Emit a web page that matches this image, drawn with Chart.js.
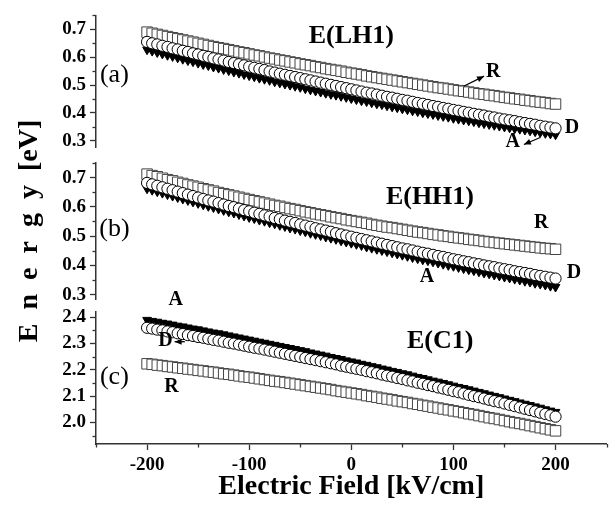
<!DOCTYPE html>
<html><head><meta charset="utf-8">
<script src="https://cdn.jsdelivr.net/npm/chart.js@4.4.0/dist/chart.umd.min.js"></script>
<style>
html,body{margin:0;padding:0;background:#fff;}
#wrap{position:relative;width:615px;height:518px;background:#fff;}
#wrap canvas{position:absolute;left:0;top:0;}
</style></head><body>
<div id="wrap">
<canvas id="ca" width="615" height="518"></canvas>
<canvas id="cb" width="615" height="518"></canvas>
<canvas id="cc" width="615" height="518"></canvas>
</div>
<script>
// Electric field (kV/cm)
const fields = [-200,-195,-190,-185,-180,-175,-170,-165,-160,-155,-150,-145,-140,-135,-130,-125,-120,-115,-110,-105,-100,-95,-90,-85,-80,-75,-70,-65,-60,-55,-50,-45,-40,-35,-30,-25,-20,-15,-10,-5,0,5,10,15,20,25,30,35,40,45,50,55,60,65,70,75,80,85,90,95,100,105,110,115,120,125,130,135,140,145,150,155,160,165,170,175,180,185,190,195,200];

// (a) E(LH1)
const lh1R = [0.690,0.686,0.682,0.678,0.674,0.670,0.666,0.662,0.658,0.654,0.650,0.646,0.642,0.638,0.634,0.631,0.627,0.623,0.619,0.616,0.612,0.608,0.605,0.601,0.597,0.594,0.590,0.587,0.583,0.580,0.576,0.573,0.570,0.566,0.563,0.559,0.556,0.553,0.550,0.546,0.543,0.540,0.537,0.533,0.530,0.527,0.524,0.521,0.518,0.515,0.512,0.509,0.506,0.503,0.500,0.497,0.494,0.491,0.489,0.486,0.483,0.480,0.478,0.475,0.472,0.469,0.467,0.464,0.462,0.459,0.456,0.454,0.451,0.449,0.446,0.444,0.441,0.439,0.437,0.434,0.432];
const lh1D = [0.655,0.650,0.646,0.641,0.637,0.632,0.628,0.623,0.619,0.614,0.610,0.605,0.601,0.596,0.592,0.588,0.583,0.579,0.575,0.571,0.566,0.562,0.558,0.554,0.549,0.545,0.541,0.537,0.533,0.529,0.525,0.521,0.517,0.513,0.509,0.505,0.501,0.497,0.493,0.489,0.485,0.481,0.477,0.473,0.470,0.466,0.462,0.458,0.455,0.451,0.447,0.444,0.440,0.436,0.433,0.429,0.425,0.422,0.418,0.415,0.411,0.408,0.404,0.401,0.397,0.394,0.391,0.387,0.384,0.380,0.377,0.374,0.371,0.367,0.364,0.361,0.358,0.354,0.351,0.348,0.345];
const lh1A = [0.627,0.622,0.617,0.612,0.607,0.603,0.598,0.593,0.588,0.584,0.579,0.574,0.570,0.565,0.561,0.556,0.552,0.547,0.543,0.538,0.534,0.530,0.525,0.521,0.517,0.512,0.508,0.504,0.500,0.496,0.492,0.487,0.483,0.479,0.475,0.471,0.467,0.464,0.460,0.456,0.452,0.448,0.444,0.441,0.437,0.433,0.430,0.426,0.422,0.419,0.415,0.412,0.408,0.405,0.401,0.398,0.395,0.391,0.388,0.385,0.381,0.378,0.375,0.372,0.369,0.365,0.362,0.359,0.356,0.353,0.350,0.347,0.344,0.342,0.339,0.336,0.333,0.330,0.327,0.325,0.322];

// (b) E(HH1)
const hh1R = [0.712,0.707,0.703,0.698,0.693,0.689,0.684,0.680,0.675,0.671,0.667,0.662,0.658,0.654,0.649,0.645,0.641,0.637,0.633,0.629,0.625,0.621,0.617,0.613,0.609,0.605,0.602,0.598,0.594,0.591,0.587,0.583,0.580,0.576,0.573,0.570,0.566,0.563,0.560,0.556,0.553,0.550,0.547,0.544,0.540,0.537,0.534,0.531,0.529,0.526,0.523,0.520,0.517,0.514,0.512,0.509,0.506,0.504,0.501,0.499,0.496,0.494,0.492,0.489,0.487,0.485,0.482,0.480,0.478,0.476,0.474,0.472,0.470,0.468,0.466,0.464,0.462,0.460,0.458,0.457,0.455];
const hh1D = [0.682,0.677,0.672,0.667,0.662,0.657,0.652,0.647,0.642,0.637,0.632,0.627,0.622,0.618,0.613,0.608,0.603,0.599,0.594,0.589,0.585,0.580,0.576,0.571,0.567,0.562,0.558,0.553,0.549,0.545,0.540,0.536,0.532,0.527,0.523,0.519,0.515,0.510,0.506,0.502,0.498,0.494,0.490,0.486,0.482,0.478,0.474,0.470,0.466,0.462,0.458,0.455,0.451,0.447,0.443,0.440,0.436,0.432,0.429,0.425,0.421,0.418,0.414,0.411,0.407,0.404,0.400,0.397,0.394,0.390,0.387,0.384,0.380,0.377,0.374,0.371,0.367,0.364,0.361,0.358,0.355];
const hh1A = [0.662,0.657,0.652,0.647,0.642,0.637,0.632,0.627,0.622,0.617,0.612,0.607,0.602,0.598,0.593,0.588,0.583,0.579,0.574,0.569,0.564,0.560,0.555,0.551,0.546,0.542,0.537,0.533,0.528,0.524,0.519,0.515,0.510,0.506,0.502,0.497,0.493,0.489,0.484,0.480,0.476,0.472,0.468,0.463,0.459,0.455,0.451,0.447,0.443,0.439,0.435,0.431,0.427,0.423,0.419,0.416,0.412,0.408,0.404,0.400,0.397,0.393,0.389,0.385,0.382,0.378,0.374,0.371,0.367,0.364,0.360,0.357,0.353,0.350,0.346,0.343,0.339,0.336,0.333,0.329,0.326];

// (c) E(C1)
const c1A = [2.390,2.386,2.383,2.379,2.376,2.372,2.368,2.365,2.361,2.357,2.354,2.350,2.346,2.342,2.339,2.335,2.331,2.327,2.323,2.319,2.315,2.311,2.307,2.303,2.299,2.295,2.291,2.287,2.283,2.279,2.275,2.271,2.266,2.262,2.258,2.254,2.249,2.245,2.241,2.236,2.232,2.228,2.223,2.219,2.214,2.210,2.205,2.201,2.196,2.192,2.187,2.183,2.178,2.173,2.169,2.164,2.159,2.155,2.150,2.145,2.140,2.135,2.131,2.126,2.121,2.116,2.111,2.106,2.101,2.096,2.091,2.086,2.081,2.076,2.071,2.066,2.061,2.056,2.050,2.045,2.040];
const c1D = [2.360,2.357,2.353,2.350,2.346,2.343,2.339,2.336,2.332,2.329,2.325,2.322,2.318,2.314,2.311,2.307,2.303,2.300,2.296,2.292,2.288,2.284,2.281,2.277,2.273,2.269,2.265,2.261,2.257,2.253,2.249,2.245,2.241,2.237,2.233,2.229,2.225,2.221,2.216,2.212,2.208,2.204,2.200,2.195,2.191,2.187,2.182,2.178,2.174,2.169,2.165,2.160,2.156,2.151,2.147,2.142,2.138,2.133,2.129,2.124,2.119,2.115,2.110,2.105,2.100,2.096,2.091,2.086,2.081,2.077,2.072,2.067,2.062,2.057,2.052,2.047,2.042,2.037,2.032,2.027,2.022];
const c1R = [2.223,2.221,2.218,2.216,2.213,2.211,2.208,2.206,2.203,2.201,2.198,2.196,2.193,2.191,2.188,2.185,2.183,2.180,2.177,2.174,2.172,2.169,2.166,2.163,2.160,2.157,2.155,2.152,2.149,2.146,2.143,2.140,2.137,2.134,2.131,2.128,2.125,2.121,2.118,2.115,2.112,2.109,2.106,2.102,2.099,2.096,2.092,2.089,2.086,2.082,2.079,2.076,2.072,2.069,2.065,2.062,2.058,2.055,2.051,2.048,2.044,2.041,2.037,2.033,2.030,2.026,2.022,2.018,2.015,2.011,2.007,2.003,1.999,1.996,1.992,1.988,1.984,1.980,1.976,1.972,1.968];

// axis tick positions
const xTickStep = 50;
const yTickStep = 0.05;

const FONT = '"Liberation Serif", "Times New Roman", serif';
const AXIS = '#333';
Chart.defaults.font.family = FONT;
Chart.defaults.color = '#000';

function isMajorY(v){ return Math.abs(v*10 - Math.round(v*10)) < 1e-6; }
function isMajorX(v){ return Math.abs(v/100 - Math.round(v/100)) < 1e-6; }
function pts(arr){ return fields.map((f,i)=>({x:f, y:arr[i]})); }

const notesPlugin = {
  id: 'notes',
  afterDatasetsDraw(chart, args, opts) {
    const ctx = chart.ctx, xs = chart.scales.x, ys = chart.scales.y;
    ctx.save();
    (opts.texts || []).forEach(n => {
      ctx.font = (n.bold ? 'bold ' : '') + n.size + 'px ' + FONT;
      ctx.fillStyle = '#000'; ctx.textAlign = 'center'; ctx.textBaseline = 'middle';
      ctx.fillText(n.t, xs.getPixelForValue(n.x), ys.getPixelForValue(n.y));
    });
    (opts.arrows || []).forEach(a => {
      const x1 = xs.getPixelForValue(a.x1), y1 = ys.getPixelForValue(a.y1);
      const x2 = xs.getPixelForValue(a.x2), y2 = ys.getPixelForValue(a.y2);
      ctx.strokeStyle = '#000'; ctx.lineWidth = 1.3;
      ctx.beginPath(); ctx.moveTo(x1, y1); ctx.lineTo(x2, y2); ctx.stroke();
      const ang = Math.atan2(y2 - y1, x2 - x1), L = 7, W = 3;
      ctx.beginPath(); ctx.moveTo(x2, y2);
      ctx.lineTo(x2 - L*Math.cos(ang) + W*Math.sin(ang), y2 - L*Math.sin(ang) - W*Math.cos(ang));
      ctx.lineTo(x2 - L*Math.cos(ang) - W*Math.sin(ang), y2 - L*Math.sin(ang) + W*Math.cos(ang));
      ctx.closePath(); ctx.fillStyle = '#000'; ctx.fill();
    });
    ctx.restore();
  }
};

const minorTicks = {
  id: 'minorTicks',
  afterDraw(chart) {
    const ctx = chart.ctx;
    ctx.save(); ctx.strokeStyle = AXIS; ctx.lineWidth = 1.3;
    const ys = chart.scales.y;
    ys.ticks.forEach(t => {
      if (!isMajorY(t.value)) {
        const p = Math.round(ys.getPixelForValue(t.value)) + 0.5;
        ctx.beginPath(); ctx.moveTo(ys.right, p); ctx.lineTo(ys.right - 3.5, p); ctx.stroke();
      }
    });
    const xs = chart.scales.x;
    if (xs.options.display) {
      xs.ticks.forEach(t => {
        if (!isMajorX(t.value)) {
          const p = Math.round(xs.getPixelForValue(t.value)) + 0.5;
          ctx.beginPath(); ctx.moveTo(p, xs.top); ctx.lineTo(p, xs.top + 3.5); ctx.stroke();
        }
      });
    }
    ctx.restore();
  }
};

function datasets(d, r, a) {
  return [
    { label: 'D', data: pts(d), pointStyle: 'circle', pointRadius: 5.6, borderColor: '#000', backgroundColor: '#fff', borderWidth: 1, showLine: false, clip: false },
    { label: 'R', data: pts(r), pointStyle: 'rect', pointRadius: 7.4, borderColor: '#444', backgroundColor: '#fff', borderWidth: 1, showLine: false, clip: false },
    { label: 'A', data: pts(a), pointStyle: 'triangle', pointRotation: 180, pointRadius: 5, borderColor: '#000', backgroundColor: '#000', borderWidth: 1, showLine: false, clip: false }
  ];
}

function yAxis(min, max, title) {
  return {
    type: 'linear', position: 'left', min: min, max: max,
    afterFit: s => { s.width = 96; },
    afterBuildTicks: s => { s.ticks = s.ticks.filter(t => Math.abs(t.value/yTickStep - Math.round(t.value/yTickStep)) < 1e-6); },
    ticks: { stepSize: yTickStep, includeBounds: false, autoSkip: false, color: '#000', padding: 4,
      font: { size: 19, weight: 'bold' },
      callback: v => isMajorY(v) ? Number(v).toFixed(1) : '' },
    grid: { display: true, drawOnChartArea: false, drawTicks: true, tickLength: 6, tickWidth: 1.3,
      tickColor: c => (c.tick && isMajorY(c.tick.value)) ? AXIS : 'rgba(0,0,0,0)' },
    border: { display: true, color: AXIS, width: 1.5 },
    title: title || { display: false }
  };
}

function xAxis(show) {
  return {
    type: 'linear', position: 'bottom', min: -250, max: 250, display: show,
    afterFit: s => { if (show) s.height = 74; },
    ticks: { stepSize: xTickStep, includeBounds: false, autoSkip: false, maxRotation: 0, minRotation: 0, color: '#000', padding: 4,
      font: { size: 19, weight: 'bold' },
      callback: v => isMajorX(v) ? String(v) : '' },
    grid: { display: true, drawOnChartArea: false, drawTicks: true, tickLength: 6, tickWidth: 1.3,
      tickColor: c => (c.tick && isMajorX(c.tick.value)) ? AXIS : 'rgba(0,0,0,0)' },
    border: { display: true, color: AXIS, width: 1.5 },
    title: { display: show, text: 'Electric Field [kV/cm]', color: '#000', font: { size: 28, weight: 'bold' }, padding: { top: 0, bottom: 14 } }
  };
}

function make(id, ds, xs, ys, pad, notes) {
  return new Chart(document.getElementById(id), {
    type: 'scatter',
    data: { datasets: ds },
    options: {
      responsive: false, animation: false, devicePixelRatio: 1,
      layout: { padding: pad },
      plugins: { legend: { display: false }, tooltip: { enabled: false }, notes: notes },
      scales: { x: xs, y: ys }
    },
    plugins: [notesPlugin, minorTicks]
  });
}

make('ca', datasets(lh1D, lh1R, lh1A), xAxis(false), yAxis(0.278, 0.75),
  { top: 15, bottom: 371, left: 0, right: 0 },
  { texts: [
      { t: 'E(LH1)', x: 0, y: 0.675, size: 26, bold: true },
      { t: '(a)', x: -232, y: 0.536, size: 26, bold: false },
      { t: 'R', x: 139, y: 0.548, size: 20, bold: true },
      { t: 'D', x: 216, y: 0.345, size: 20, bold: true },
      { t: 'A', x: 158, y: 0.298, size: 20, bold: true } ],
    arrows: [ { x1: 110, y1: 0.496, x2: 130, y2: 0.532 }, { x1: 185, y1: 0.312, x2: 169, y2: 0.287 } ] });

make('cb', datasets(hh1D, hh1R, hh1A), xAxis(false),
  yAxis(0.285, 0.75, { display: true, text: 'E  n  e  r  g  y  [eV]', color: '#000', font: { size: 28, weight: 'bold' }, padding: { top: 13, bottom: 0 } }),
  { top: 163, bottom: 219, left: 0, right: 0 },
  { texts: [
      { t: 'E(HH1)', x: 77, y: 0.633, size: 26, bold: true },
      { t: '(b)', x: -232, y: 0.523, size: 26, bold: false },
      { t: 'R', x: 186, y: 0.544, size: 20, bold: true },
      { t: 'D', x: 218, y: 0.374, size: 20, bold: true },
      { t: 'A', x: 74, y: 0.360, size: 20, bold: true } ],
    arrows: [] });

make('cc', datasets(c1D, c1R, c1A), xAxis(true), yAxis(1.918, 2.42),
  { top: 312, bottom: 0, left: 0, right: 0 },
  { texts: [
      { t: 'E(C1)', x: 87, y: 2.308, size: 26, bold: true },
      { t: '(c)', x: -232, y: 2.172, size: 26, bold: false },
      { t: 'A', x: -172, y: 2.466, size: 20, bold: true },
      { t: 'D', x: -182, y: 2.31, size: 20, bold: true },
      { t: 'R', x: -176, y: 2.134, size: 20, bold: true } ],
    arrows: [ { x1: -163, y1: 2.307, x2: -173, y2: 2.307 } ] });
</script>
</body></html>
